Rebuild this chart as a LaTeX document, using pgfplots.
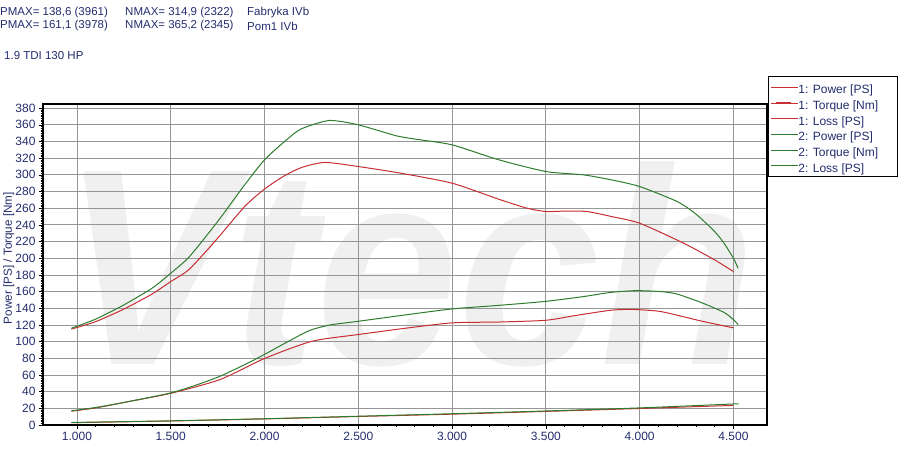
\documentclass[border=0pt]{standalone}
\usepackage{pgfplots}
\pgfplotsset{compat=1.18}
\usepackage{fontspec}
\setmainfont{Liberation Sans}
\definecolor{navy}{RGB}{35,45,110}
\definecolor{cred}{RGB}{200,45,50}
\definecolor{cgreen}{RGB}{45,125,45}
\definecolor{gridgray}{RGB}{150,150,150}
\newcommand{\lgd}[1]{\rule[-5pt]{0pt}{19.2pt}\makebox[97pt][l]{\textcolor{navy}{#1}}}
\begin{document}
\begin{tikzpicture}
\useasboundingbox (0pt,0pt) rectangle (898pt,449pt);
\tikzset{hdr/.style={anchor=west, text=navy, font=\fontsize{11.5}{13}\selectfont, inner sep=0}}
\node[hdr] at (0pt,436pt) {PMAX= 138,6 (3961)};
\node[hdr] at (125pt,436pt) {NMAX= 314,9 (2322)};
\node[hdr] at (247pt,436pt) {Fabryka IVb};
\node[hdr] at (0pt,423pt) {PMAX= 161,1 (3978)};
\node[hdr] at (125pt,423pt) {NMAX= 365,2 (2345)};
\node[hdr] at (247pt,423pt) {Pom1 IVb};
\node[hdr] at (4pt,393pt) {1.9 TDI 130 HP};
\node[anchor=base west, text=gray!12, xscale=0.91,
  font=\fontsize{280}{280}\selectfont\bfseries\itshape, inner sep=0] at (62pt,84pt) {Vtech};
\begin{axis}[
  at={(43pt,24pt)}, anchor=south west, scale only axis,
  width=724pt, height=321pt,
  xmin=819, xmax=4679, ymin=0, ymax=385,
  xtick={1000,1500,2000,2500,3000,3500,4000,4500},
  xticklabels={1.000,1.500,2.000,2.500,3.000,3.500,4.000,4.500},
  ytick={0,20,...,380},
  minor x tick num=4, minor y tick num=9,
  tick pos=left, tick align=outside,
  major tick length=4pt, minor tick length=2.5pt,
  every tick/.style={black, line width=0.6pt},
  /pgf/number format/assume math mode=true,
  ticklabel style={font=\fontsize{12}{14}\selectfont, text=navy},
  xmajorgrids, ymajorgrids,
  major grid style={gridgray, line width=0.8pt},
  axis line style={black, line width=1.3pt},
  ylabel={Power [PS] / Torque [Nm]},
  ylabel style={at={(axis description cs:-0.047,0.52)}, anchor=center, rotate=0,
    font=\fontsize{11.7}{13}\selectfont, text=navy},
  legend style={at={(axis description cs:1.0014,1.087)}, anchor=north west,
    draw=black, line width=0.8pt, font=\fontsize{12}{14}\selectfont,
    row sep=0pt, inner xsep=2pt, inner ysep=3pt, nodes={inner sep=0pt}},
  legend cell align=left,
  legend image code/.code={\path (0pt,0pt) -- (27pt,0pt); \draw[#1, line width=1.1pt] (5pt,0pt) -- (20pt,0pt);},
]
% 1: Power
\addplot[color=cred, line width=1pt, smooth, tension=0.4] coordinates {
(970,16.5) (1100,20.5) (1250,27) (1500,38) (1764,54.6) (2000,79.8) (2254,100.5) (2500,108.5)
(2750,116) (3000,122.5) (3250,123.5) (3500,125.6) (3650,131) (3845,137.6) (3961,138.6)
(4114,136) (4334,124.4) (4500,116.5)};
\addlegendentry{\lgd{1: Power [PS]}}
% 1: Torque
\addplot[color=cred, line width=1pt, smooth, tension=0.4] coordinates {
(970,115) (1100,124) (1250,139) (1400,157) (1500,172) (1600,187) (1750,224) (1894,262)
(2000,283) (2107,299) (2200,309) (2322,314.9) (2500,310) (2726,302) (3000,290) (3259,270)
(3400,260) (3500,256) (3600,256.5) (3720,256) (3850,250) (4000,242) (4235,218) (4400,198)
(4500,184)};
\addlegendentry{\lgd{1: Torque [Nm]}}
% 1: Loss
\addplot[color=cred, line width=1pt, smooth] coordinates {
(970,2.8) (1500,4.8) (2000,7.3) (2500,10.2) (3000,13) (3500,16.3) (4000,19.8) (4500,23.5)};
\addlegendentry{\lgd{1: Loss [PS]}}
% 2: Power
\addplot[color=cgreen, line width=1pt, smooth, tension=0.4] coordinates {
(970,17) (1100,21) (1250,27) (1500,38.5) (1650,49) (1764,58.6) (1900,73) (2000,84.6)
(2100,97) (2200,109) (2254,114.5) (2350,120) (2500,124.4) (2750,132) (3000,139.2)
(3250,143.5) (3500,148.3) (3700,154) (3845,159) (3978,161.1) (4114,160) (4200,157)
(4334,146.4) (4450,135) (4500,126.4) (4525,120.4)};
\addlegendentry{\lgd{2: Power [PS]}}
% 2: Torque
\addplot[color=cgreen, line width=1pt, smooth, tension=0.4] coordinates {
(970,116) (1100,127) (1250,144) (1400,164) (1500,182) (1600,202) (1750,244) (1894,288)
(2000,318) (2107,340) (2195,355) (2345,365.2) (2500,360) (2700,347) (2800,343) (3000,336)
(3250,318) (3500,304) (3700,300) (3850,294) (4000,286) (4200,268) (4300,253) (4400,232)
(4450,218) (4500,200) (4525,188)};
\addlegendentry{\lgd{2: Torque [Nm]}}
% 2: Loss
\addplot[color=cgreen, line width=1pt, smooth] coordinates {
(970,3) (1500,5) (2000,7.5) (2500,10.5) (3000,13.5) (3500,16.8) (4000,20.5) (4527,25.5)};
\addlegendentry{\lgd{2: Loss [PS]}}
\end{axis}
\end{tikzpicture}
\end{document}
